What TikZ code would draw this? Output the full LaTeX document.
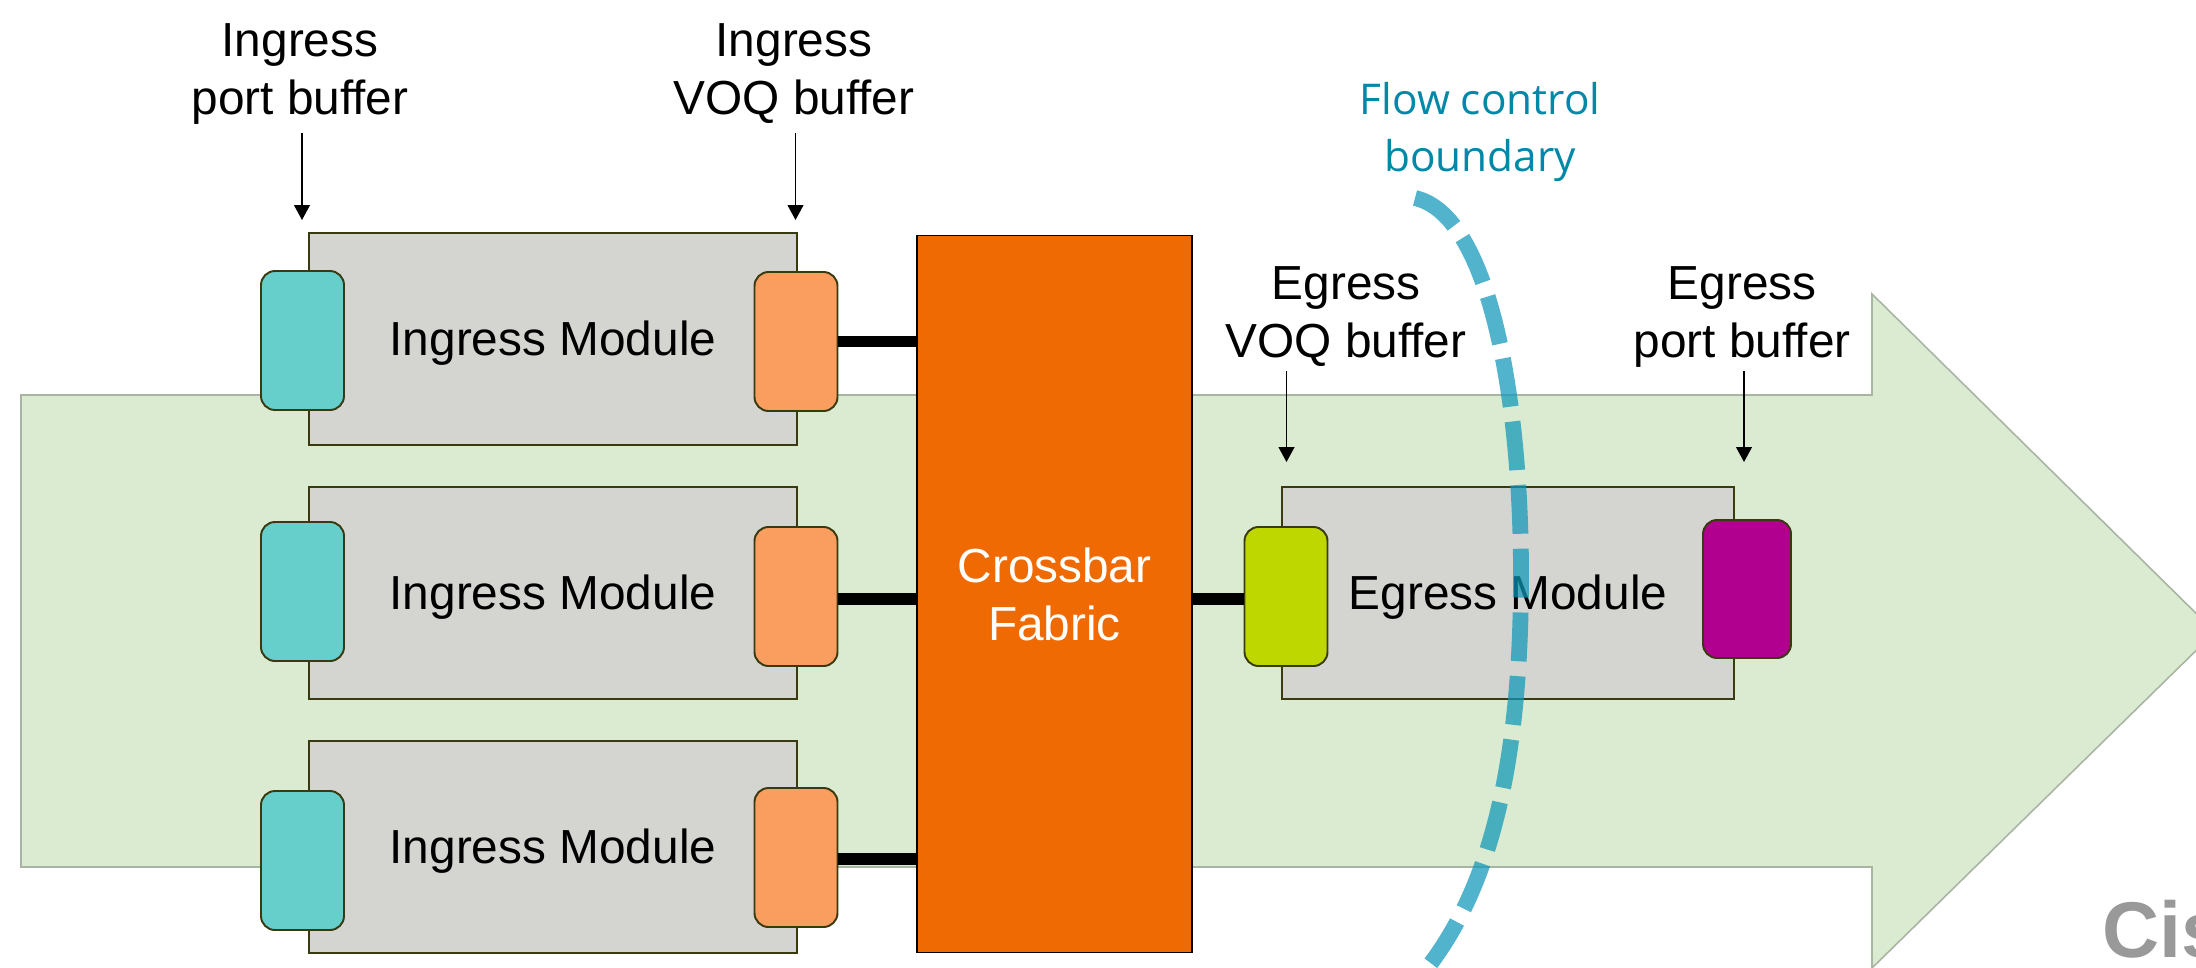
\documentclass[tikz,border=0pt]{standalone}
\usepackage{fontspec}
\setmainfont{Liberation Sans}
\newfontfamily\flowfont{Open Sans}
\usetikzlibrary{arrows.meta}
\definecolor{arrowfill}{HTML}{DAEBD1}
\definecolor{arrowline}{HTML}{A9B5A3}
\definecolor{modfill}{HTML}{D4D5D0}
\definecolor{modline}{HTML}{3A3A10}
\definecolor{tealbuf}{HTML}{66CFCB}
\definecolor{orangebuf}{HTML}{F99E5E}
\definecolor{xbarfill}{HTML}{F06A04}
\definecolor{limebuf}{HTML}{BFD700}
\definecolor{purplebuf}{HTML}{B1008F}
\definecolor{flowtext}{HTML}{0088A8}
\definecolor{flowline}{HTML}{0F97B8}
\tikzset{
	bx/.style 2 args={minimum width=#1*0.02cm, minimum height=#2*0.02cm, inner sep=0pt},
	txt/.style={font=\fontsize{27.2}{33}\selectfont, align=center},
	modbox/.style={draw=modline, line width=1pt, fill=modfill, txt, text depth=1.1pt},
	bufbox/.style={draw=modline, line width=1.1pt, rounded corners=8pt, bx={83}{139}},
	toplabel/.style={txt, anchor=south, text depth=0pt, inner xsep=0pt, inner ysep=10.5pt},
	pointer/.style={-{Triangle[length=8.5pt,width=9pt]}, line width=0.85pt},
	link/.style={line width=6.8pt},
}

\begin{document}
\begin{tikzpicture}[x=0.02cm, y=-0.02cm]
	\useasboundingbox (0,0) rectangle (2196,967);

	\draw[draw=arrowline, fill=arrowfill, line width=0.9pt] (21,395) -- (1872,395) -- (1872,294) -- (2215,632) -- (1872,968) -- (1872,867) -- (21,867) -- cycle;

	\node[modbox, bx={488}{212}] (modone) at (553,339) {Ingress Module};
	\node[modbox, bx={488}{212}] (modtwo) at (553,593) {Ingress Module};
	\node[modbox, bx={488}{212}] (modthree) at (553,847) {Ingress Module};
	\node[modbox, bx={452}{212}] (modegress) at (1508,593) {Egress Module};

	\node[bufbox, fill=tealbuf] (portone) at (302.5,340.5) {};
	\node[bufbox, fill=tealbuf] (porttwo) at (302.5,591.5) {};
	\node[bufbox, fill=tealbuf] (portthree) at (302.5,860.5) {};

	\node[bufbox, fill=orangebuf] (voqone) at (796,341.5) {};
	\node[bufbox, fill=orangebuf] (voqtwo) at (796,596.5) {};
	\node[bufbox, fill=orangebuf] (voqthree) at (796,857.5) {};

	\node[draw=black, line width=1pt, fill=xbarfill, text=white, txt, text depth=0pt, bx={275}{717}] (xbar) at (1054.5,594) {Crossbar\\Fabric};

	\node[bufbox, fill=limebuf] (voqegress) at (1286,596.5) {};
	\node[bufbox, fill=purplebuf, bx={88}{138}] (portegress) at (1747,589) {};

	\draw[link] (voqone.east) -- (voqone.east -| xbar.west);
	\draw[link] ([yshift=-1.4pt]voqtwo.east) -- ([yshift=-1.4pt]voqtwo.east -| xbar.west);
	\draw[link] ([yshift=-0.9pt]voqthree.east) -- ([yshift=-0.9pt]voqthree.east -| xbar.west);
	\draw[link] ([yshift=-1.4pt]voqegress.west -| xbar.east) -- ([yshift=-1.4pt]voqegress.west);

	\node[toplabel] (lblport) at (300,133) {Ingress\\port buffer};
	\node[toplabel] (lblvoq) at (794,133) {Ingress\\VOQ buffer};
	\node[toplabel, inner ysep=7.7pt] (lblevoq) at (1346,371) {Egress\\VOQ buffer};
	\node[toplabel, inner ysep=7.7pt] (lbleport) at (1742,371) {Egress\\port buffer};

	\coordinate (tipport) at (302,220);
	\coordinate (tipvoq) at (795.5,220);
	\coordinate (tipevoq) at (1286.5,462);
	\coordinate (tipeport) at (1744,462);

	\draw[pointer] (lblport.south -| tipport) -- (tipport);
	\draw[pointer] (lblvoq.south -| tipvoq) -- (tipvoq);
	\draw[pointer] (lblevoq.south -| tipevoq) -- (tipevoq);
	\draw[pointer] (lbleport.south -| tipeport) -- (tipeport);

	\node[text=flowtext, align=center, font=\flowfont\fontsize{24.1}{32.5}\selectfont] (lblflow) at (1480,132) {Flow control\\boundary};

	\node[anchor=base west, inner sep=0pt, text=black!40, font=\fontsize{45}{45}\selectfont\bfseries] (logo) at (2102,957) {Cis};

	\draw[flowline, opacity=0.72, line width=9pt, dash pattern=on 27.8pt off 8.5pt] (1415,198) .. controls (1490,215) and (1521,400) .. (1521,575) .. controls (1521,750) and (1495,880) .. (1428,967);
\end{tikzpicture}
\end{document}
